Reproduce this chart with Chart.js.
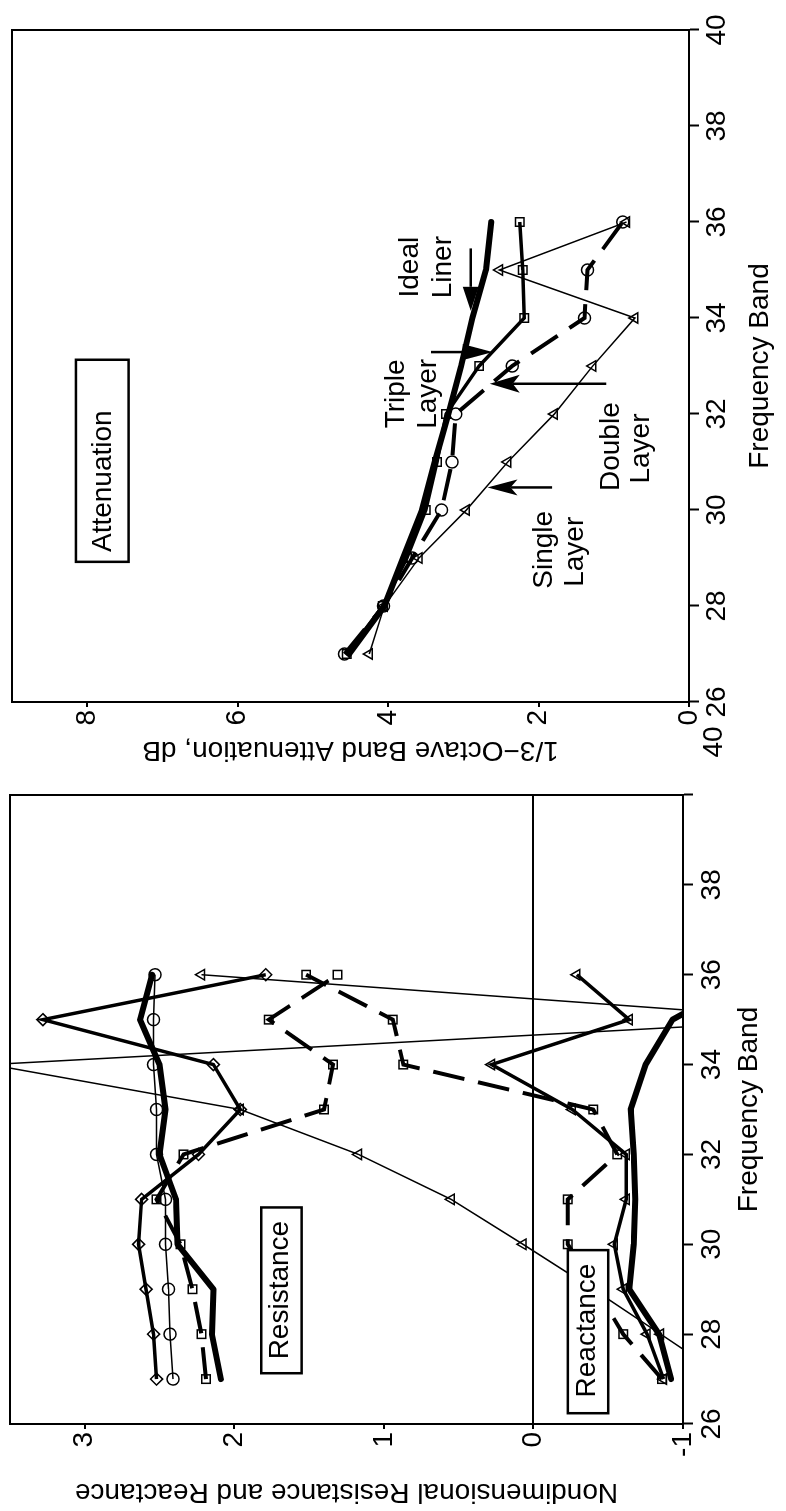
<!DOCTYPE html>
<html>
<head>
<meta charset="utf-8">
<script src="https://cdn.jsdelivr.net/npm/chart.js@4.4.0/dist/chart.umd.min.js"></script>
<style>
html, body { margin: 0; padding: 0; background: #fff; overflow: hidden; }
/* the figure is landscape; it is drawn flat and turned a quarter left */
#page { position: absolute; left: 0; top: 0; width: 1511px; height: 786px;
        transform-origin: 0 0; transform: translate(0, 1511px) rotate(-90deg); }
#left { position: absolute; left: 0; top: 0; width: 800px; height: 786px; }
#right { position: absolute; left: 720px; top: 0; width: 791px; height: 786px; }
</style>
</head>
<body>
<div id="page">
  <canvas id="left" width="800" height="786"></canvas>
  <canvas id="right" width="791" height="786"></canvas>
</div>
<script>
const FONT = "'Liberation Sans', Arial, Helvetica, sans-serif";

// 1/3-octave frequency bands
const bands = [27, 28, 29, 30, 31, 32, 33, 34, 35, 36];

// left panel - nondimensional resistance
const resDiamond = [2.52, 2.54, 2.59, 2.64, 2.62, 2.24, 1.96, 2.14, 3.28, 1.79];
const resCircle  = [2.41, 2.43, 2.44, 2.46, 2.46, 2.52, 2.52, 2.54, 2.54, 2.53];
const resSquare  = [2.19, 2.22, 2.28, 2.36, 2.52, 2.34, 1.40, 1.34, 1.77, 1.31];
const resIdeal   = [2.09, 2.15, 2.14, 2.38, 2.39, 2.50, 2.46, 2.50, 2.63, 2.55];

// left panel - nondimensional reactance
const reaThin    = [-1.30, -0.85, -0.40, 0.07, 0.55, 1.17, 1.96, 3.63, -1.90, 2.22];
const reaSquare  = [-0.86, -0.60, -0.42, -0.23, -0.23, -0.56, -0.40, 0.87, 0.94, 1.52];
const reaMedium  = [-0.87, -0.76, -0.60, -0.54, -0.62, -0.62, -0.26, 0.28, -0.64, -0.29];
const reaIdeal   = [-0.92, -0.84, -0.64, -0.67, -0.68, -0.67, -0.65, -0.75, -0.93, -1.47];

// right panel - 1/3 octave band attenuation, dB
const attIdeal  = [4.52, 4.05, 3.80, 3.55, 3.38, 3.20, 3.03, 2.88, 2.70, 2.63];
const attTriple = [4.55, 4.07, 3.75, 3.50, 3.35, 3.23, 2.79, 2.19, 2.21, 2.25];
const attDouble = [4.58, 4.06, 3.68, 3.29, 3.15, 3.10, 2.35, 1.39, 1.35, 0.88];
const attSingle = [4.25, 4.05, 3.59, 2.96, 2.41, 1.79, 1.28, 0.72, 2.52, 0.83];

Chart.defaults.font.family = FONT;
Chart.defaults.font.size = 28;
Chart.defaults.color = '#000';

const thick  = { borderWidth: 6, pointRadius: 0, borderJoinStyle: 'round', borderCapStyle: 'round' };
const medium = { borderWidth: 3.5, pointRadius: 6, pointBorderWidth: 1.5 };
const thin   = { borderWidth: 1.5, pointRadius: 6, pointBorderWidth: 1.5 };
const dashed = { borderWidth: 4, borderDash: [32, 14], pointRadius: 6, pointBorderWidth: 1.5 };

function series(vals, style, marker) {
  return Object.assign({
    data: bands.map((b, i) => ({ x: b, y: vals[i] })),
    borderColor: '#000',
    backgroundColor: 'rgba(0,0,0,0)',
    pointBorderColor: '#000',
    pointBackgroundColor: 'rgba(0,0,0,0)',
    pointStyle: marker || 'circle',
    tension: 0,
    fill: false
  }, style);
}

function freqAxis(h, tickPad, titlePad, hideLast) {
  return {
    type: 'linear', min: 26, max: 40,
    afterFit: s => { s.height = h; s.paddingLeft = 0; s.paddingRight = 0; },
    ticks: { stepSize: 2, padding: tickPad, autoSkip: false, maxRotation: 0, color: '#000',
             callback: v => (hideLast && v === 40) ? '' : String(v) },
    grid: { drawOnChartArea: false, tickLength: 10, tickWidth: 2, tickColor: '#000', color: '#000' },
    border: { color: '#000', width: 2 },
    title: { display: true, text: 'Frequency Band', color: '#000', padding: { top: 0, bottom: titlePad } }
  };
}

function valueAxis(w, min, max, step, title, titlePad, zeroLine) {
  return {
    type: 'linear', min: min, max: max,
    afterFit: s => { s.width = w; s.paddingTop = 0; s.paddingBottom = 0; },
    ticks: { stepSize: step, includeBounds: false, padding: 3, color: '#000' },
    grid: { tickLength: 5, tickWidth: 2, tickColor: '#000', lineWidth: 2,
            color: c => (zeroLine && c.tick && c.tick.value === 0) ? '#000' : 'rgba(0,0,0,0)' },
    border: { color: '#000', width: 2 },
    title: { display: true, text: title, color: '#000', padding: { top: titlePad, bottom: 0 } }
  };
}

function labelBox(ctx, x, y, fr, vr, text, tf, tv) {
  const px0 = x.getPixelForValue(fr[0]), px1 = x.getPixelForValue(fr[1]);
  const py0 = y.getPixelForValue(vr[1]), py1 = y.getPixelForValue(vr[0]);
  ctx.fillStyle = '#fff';
  ctx.fillRect(px0, py0, px1 - px0, py1 - py0);
  ctx.lineWidth = 2.5;
  ctx.strokeStyle = '#000';
  ctx.strokeRect(px0, py0, px1 - px0, py1 - py0);
  ctx.fillStyle = '#000';
  ctx.textAlign = 'center';
  ctx.textBaseline = 'middle';
  ctx.fillText(text, x.getPixelForValue(tf), y.getPixelForValue(tv));
}

function arrow(ctx, x0, y0, x1, y1, len, half, notch) {
  const dx = x1 - x0, dy = y1 - y0, d = Math.hypot(dx, dy);
  const ux = dx / d, uy = dy / d;
  const bx = x1 - ux * len, by = y1 - uy * len;
  ctx.beginPath();
  ctx.moveTo(x0, y0);
  ctx.lineTo(bx + ux * notch, by + uy * notch);
  ctx.stroke();
  ctx.beginPath();
  ctx.moveTo(x1, y1);
  ctx.lineTo(bx - uy * half, by + ux * half);
  ctx.lineTo(bx + ux * notch, by + uy * notch);
  ctx.lineTo(bx + uy * half, by - ux * half);
  ctx.closePath();
  ctx.fill();
}

function frame(ctx, a) {
  ctx.lineWidth = 2;
  ctx.strokeStyle = '#000';
  ctx.strokeRect(a.left, a.top, a.right - a.left, a.bottom - a.top);
}

const leftNotes = {
  id: 'leftNotes',
  afterDatasetsDraw(chart) {
    const ctx = chart.ctx, x = chart.scales.x, y = chart.scales.y;
    ctx.save();
    ctx.font = '28px ' + FONT;
    labelBox(ctx, x, y, [27.13, 30.82], [1.55, 1.82], 'Resistance', 28.98, 1.69);
    labelBox(ctx, x, y, [26.24, 29.87], [-0.50, -0.23], 'Reactance', 28.08, -0.36);
    frame(ctx, chart.chartArea);
    ctx.restore();
  }
};

const rightNotes = {
  id: 'rightNotes',
  afterDatasetsDraw(chart) {
    const ctx = chart.ctx, x = chart.scales.x, y = chart.scales.y, a = chart.chartArea;
    const X = v => x.getPixelForValue(v), Y = v => y.getPixelForValue(v);
    ctx.save();
    ctx.font = '28px ' + FONT;
    // Attenuation box
    ctx.lineWidth = 2.5;
    ctx.strokeStyle = '#000';
    ctx.strokeRect(X(28.92), Y(8.15), X(33.13) - X(28.92), Y(7.45) - Y(8.15));
    ctx.fillStyle = '#000';
    ctx.textAlign = 'center';
    ctx.textBaseline = 'middle';
    ctx.fillText('Attenuation', X(30.6), Y(7.78));
    // curve names
    ctx.fillText('Ideal', X(35.06), Y(3.70));
    ctx.fillText('Liner', X(35.06), Y(3.27));
    ctx.fillText('Triple', X(32.42), Y(3.89));
    ctx.fillText('Layer', X(32.42), Y(3.47));
    ctx.fillText('Double', X(31.32), Y(1.03));
    ctx.fillText('Layer', X(31.28), Y(0.63));
    ctx.fillText('Single', X(29.17), Y(1.92));
    ctx.fillText('Layer', X(29.13), Y(1.51));
    // arrows
    ctx.lineWidth = 2.5;
    arrow(ctx, X(35.45), Y(2.90), X(34.15), Y(2.90), 24, 8, 0);
    arrow(ctx, X(33.29), Y(3.43), X(33.29), Y(2.61), 30, 8, 0);
    arrow(ctx, X(32.63), Y(1.10), X(32.63), Y(2.65), 30, 9, 7);
    arrow(ctx, X(30.47), Y(1.82), X(30.47), Y(2.68), 30, 8, 7);
    // stray band label below the corner
    ctx.fillText('40', X(26) - 40, a.bottom + 25);
    frame(ctx, a);
    ctx.restore();
  }
};

new Chart(document.getElementById('left'), {
  type: 'line',
  data: {
    datasets: [
      series(resIdeal, thick),
      series(resDiamond, medium, 'rectRot'),
      series(resCircle, thin, 'circle'),
      series(resSquare, dashed, 'rect'),
      series(reaIdeal, thick),
      series(reaMedium, medium, 'triangle'),
      series(reaThin, thin, 'triangle'),
      series(reaSquare, dashed, 'rect')
    ]
  },
  options: {
    responsive: false, animation: false, devicePixelRatio: 1,
    layout: { padding: { left: 0, top: 10, right: 84, bottom: 0 } },
    plugins: { legend: { display: false }, tooltip: { enabled: false } },
    scales: {
      x: freqAxis(103, 2, 20, true),
      y: valueAxis(87, -1, 3.5, 1, 'Nondimensional Resistance and Reactance', 2, true)
    }
  },
  plugins: [leftNotes]
});

new Chart(document.getElementById('right'), {
  type: 'line',
  data: {
    datasets: [
      series(attIdeal, thick),
      series(attTriple, medium, 'rect'),
      series(attDouble, dashed, 'circle'),
      series(attSingle, thin, 'triangle')
    ]
  },
  options: {
    responsive: false, animation: false, devicePixelRatio: 1,
    layout: { padding: { left: 0, top: 12, right: 30, bottom: 0 } },
    plugins: { legend: { display: false }, tooltip: { enabled: false } },
    scales: {
      x: freqAxis(97, 1, 9, false),
      y: valueAxis(89, 0, 9, 2, '1/3\u2212Octave Band Attenuation, dB', 24, false)
    }
  },
  plugins: [rightNotes]
});
</script>
</body>
</html>
